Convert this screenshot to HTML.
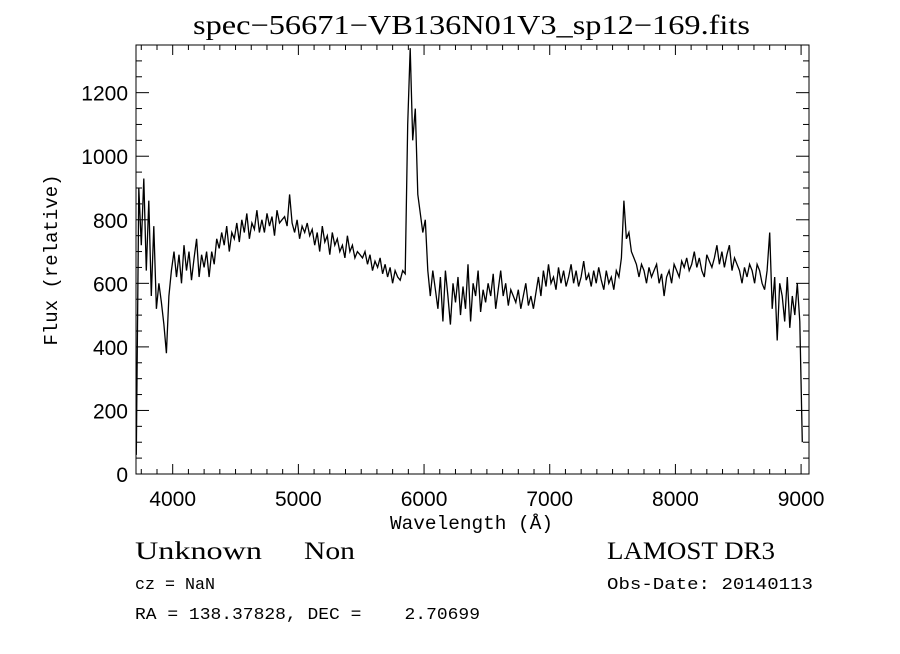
<!DOCTYPE html>
<html><head><meta charset="utf-8"><style>
body{margin:0;background:#fff;}
svg text{fill:#000;}
</style></head><body>
<svg id="chart" width="900" height="649" xmlns="http://www.w3.org/2000/svg">
<rect width="900" height="649" fill="#fff"/>
<text x="193" y="34" font-family="Liberation Serif, serif" font-size="27" textLength="557" lengthAdjust="spacingAndGlyphs">spec−56671−VB136N01V3_sp12−169.fits</text>
<g id="axes"></g>
<path id="spec" fill="none" stroke="#000" stroke-width="1.3"/>
<text x="390" y="529" font-family="Liberation Mono, monospace" font-size="19" textLength="163" lengthAdjust="spacingAndGlyphs">Wavelength (Å)</text>
<text transform="translate(57,260) rotate(-90)" font-family="Liberation Mono, monospace" font-size="19" text-anchor="middle">Flux (relative)</text>
<text x="135" y="559" font-family="Liberation Serif, serif" font-size="25" textLength="127" lengthAdjust="spacingAndGlyphs">Unknown</text>
<text x="304" y="559" font-family="Liberation Serif, serif" font-size="25" textLength="51" lengthAdjust="spacingAndGlyphs">Non</text>
<text x="607" y="559" font-family="Liberation Serif, serif" font-size="25" textLength="168" lengthAdjust="spacingAndGlyphs">LAMOST DR3</text>
<text x="135" y="589" font-family="Liberation Mono, monospace" font-size="17" textLength="80" lengthAdjust="spacingAndGlyphs">cz = NaN</text>
<text x="607" y="589" font-family="Liberation Mono, monospace" font-size="17" textLength="206" lengthAdjust="spacingAndGlyphs">Obs-Date: 20140113</text>
<text x="135" y="619" font-family="Liberation Mono, monospace" font-size="17" xml:space="preserve" textLength="345" lengthAdjust="spacingAndGlyphs">RA = 138.37828, DEC =    2.70699</text>
</svg>
<script>
const waveStart = 3710;
const waveStep = 20;
const flux = [
60,900,720,930,640,860,560,780,520,600,
540,470,380,560,640,700,620,690,600,720,
640,700,610,680,740,620,690,650,700,620,
700,660,740,710,760,720,780,700,760,740,
790,730,800,760,820,740,790,770,830,760,
800,760,820,780,810,750,830,790,800,810,
780,880,790,760,800,740,780,760,790,750,
770,720,760,700,780,730,750,690,760,720,
740,700,720,680,750,700,720,680,700,690,
680,700,660,690,640,670,650,680,630,660,
620,650,600,640,620,610,640,630,1100,1340,
1050,1150,880,820,760,800,640,560,640,580,
520,620,480,640,560,470,600,540,620,500,
590,520,660,480,600,560,640,510,580,540,
600,560,630,520,580,640,560,600,530,580,
560,540,580,520,560,600,530,560,520,570,
620,560,640,590,660,600,620,580,650,600,
640,590,620,660,600,640,590,620,670,610,
630,590,640,600,650,610,580,640,600,620,
580,640,620,680,860,740,760,700,680,660,
620,660,640,600,650,620,640,660,600,630,
560,620,640,600,660,640,620,670,650,680,
640,660,700,650,680,640,620,690,670,650,
680,720,660,700,650,690,720,640,680,660,
640,600,650,620,660,640,600,660,640,600,
580,640,760,520,620,420,600,560,480,620,
460,560,500,600,480,100
];
const xTicks = [4000,5000,6000,7000,8000,9000];
const yTicks = [0,200,400,600,800,1000,1200];

const X0=136,X1=809,Y0=474,Y1=45;
const xMin=3708,xMax=9063,yMin=0,yMax=1350;
const sx=w=>X0+(w-xMin)/(xMax-xMin)*(X1-X0);
const sy=f=>Y0-(f-yMin)/(yMax-yMin)*(Y0-Y1);
const NS="http://www.w3.org/2000/svg";
const ax=document.getElementById('axes');
function ln(x1,y1,x2,y2,name){const l=document.createElementNS(NS,'line');
l.setAttribute('x1',x1);l.setAttribute('y1',y1);l.setAttribute('x2',x2);l.setAttribute('y2',y2);
l.setAttribute('stroke','#000');l.setAttribute('stroke-width','1');


ax.appendChild(l);}
function tx(x,y,s,anchor,name){const t=document.createElementNS(NS,'text');
t.setAttribute('x',x);t.setAttribute('y',y);t.setAttribute('text-anchor',anchor);
t.setAttribute('font-family','Liberation Sans, sans-serif');t.setAttribute('font-size','21');t.textContent=s;


ax.appendChild(t);}
const fr=document.createElementNS(NS,'rect');
fr.setAttribute('x',X0);fr.setAttribute('y',Y1);fr.setAttribute('width',X1-X0);fr.setAttribute('height',Y0-Y1);
fr.setAttribute('fill','none');fr.setAttribute('stroke','#000');


ax.appendChild(fr);
for(let w=3750;w<xMax;w+=125){const x=sx(w);const major=(w%1000===0);const L=major?10:5;
ln(x,Y0,x,Y0-L,'x-tick');ln(x,Y1,x,Y1+L,'x-tick-top');}
xTicks.forEach(w=>tx(sx(w),Y0+32,String(w),'middle','x-tick-label'));
for(let f=0;f<=yMax;f+=50){const y=sy(f);const major=(f%200===0);const L=major?13:6;
ln(X0,y,X0+L,y,'y-tick');ln(X1,y,X1-L,y,'y-tick-right');}
yTicks.forEach(f=>tx(X0-8,sy(f)+8,String(f),'end','y-tick-label'));
let d='';
flux.forEach((f,i)=>{const w=waveStart+i*waveStep;d+=(i?'L':'M')+sx(w).toFixed(1)+','+sy(Math.min(f,yMax)).toFixed(1);});
document.getElementById('spec').setAttribute('d',d);
</script>
</body></html>
